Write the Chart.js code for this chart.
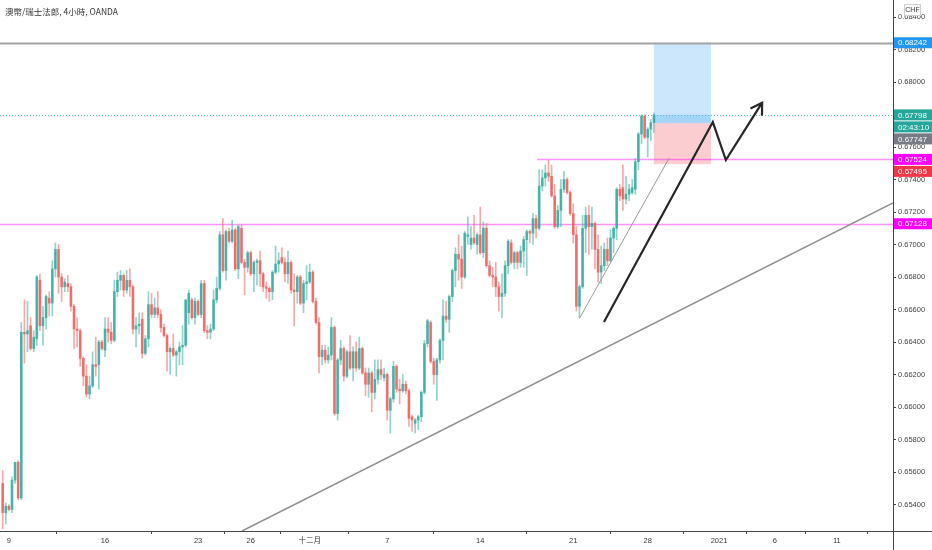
<!DOCTYPE html>
<html>
<head>
<meta charset="utf-8">
<script src="https://cdn.jsdelivr.net/npm/chart.js@4.4.1/dist/chart.umd.min.js"></script>
<style>
  html, body { margin: 0; padding: 0; background: #ffffff; }
  #wrap { width: 932px; height: 550px; position: relative; }
</style>
</head>
<body>
<div id="wrap"><canvas id="chart"></canvas></div>
<script>
// AUD/CHF 4h candles
const open = [
  0.6553,0.6535,0.6539,0.6537,0.6555,0.6566,0.6544,0.6646,0.6645,0.6650,
  0.6636,0.6642,0.6678,0.6650,0.6655,0.6667,0.6664,0.6685,0.6697,0.6680,
  0.6674,0.6676,0.6674,0.6662,0.6648,0.6647,0.6630,0.6619,0.6608,0.6613,
  0.6626,0.6626,0.6640,0.6635,0.6648,0.6646,0.6641,0.6671,0.6678,0.6681,
  0.6672,0.6678,0.6674,0.6648,0.6650,0.6654,0.6633,0.6642,0.6663,0.6657,
  0.6661,0.6657,0.6649,0.6644,0.6634,0.6636,0.6632,0.6634,0.6637,0.6638,
  0.6658,0.6666,0.6655,0.6665,0.6657,0.6676,0.6647,0.6646,0.6648,0.6666,
  0.6673,0.6706,0.6684,0.6708,0.6702,0.6709,0.6685,0.6710,0.6689,0.6686,
  0.6695,0.6682,0.6689,0.6690,0.6682,0.6674,0.6673,0.6671,0.6683,0.6688,
  0.6692,0.6689,0.6682,0.6689,0.6672,0.6671,0.6680,0.6664,0.6676,0.6677,
  0.6683,0.6665,0.6652,0.6631,0.6635,0.6629,0.6632,0.6649,0.6596,0.6629,
  0.6636,0.6619,0.6634,0.6624,0.6634,0.6624,0.6636,0.6621,0.6614,0.6621,
  0.6609,0.6617,0.6623,0.6618,0.6620,0.6598,0.6605,0.6625,0.6611,0.6610,
  0.6614,0.6610,0.6594,0.6590,0.6592,0.6594,0.6609,0.6639,0.6652,0.6628,
  0.6620,0.6629,0.6641,0.6656,0.6654,0.6668,0.6684,0.6694,0.6691,0.6680,
  0.6705,0.6700,0.6704,0.6700,0.6706,0.6695,0.6710,0.6687,0.6681,0.6680,
  0.6674,0.6668,0.6670,0.6687,0.6701,0.6689,0.6695,0.6689,0.6696,0.6703,
  0.6708,0.6707,0.6716,0.6710,0.6736,0.6741,0.6744,0.6742,0.6730,0.6711,
  0.6721,0.6734,0.6740,0.6732,0.6719,0.6706,0.6662,0.6674,0.6710,0.6718,
  0.6711,0.6713,0.6697,0.6683,0.6687,0.6697,0.6690,0.6704,0.6710,0.6734,
  0.6735,0.6728,0.6731,0.6732,0.6734,0.6751,0.6768,0.6779,0.6766,0.6771,0.6775
];
const high = [
  0.6561,0.6541,0.6540,0.6557,0.6566,0.6567,0.6652,0.6666,0.6665,0.6655,
  0.6647,0.6681,0.6682,0.6662,0.6669,0.6671,0.6690,0.6701,0.6700,0.6682,
  0.6679,0.6681,0.6676,0.6663,0.6655,0.6648,0.6631,0.6626,0.6619,0.6634,
  0.6643,0.6641,0.6641,0.6655,0.6655,0.6652,0.6678,0.6683,0.6684,0.6682,
  0.6684,0.6685,0.6675,0.6655,0.6658,0.6658,0.6644,0.6671,0.6670,0.6667,
  0.6671,0.6660,0.6651,0.6645,0.6637,0.6645,0.6635,0.6640,0.6650,0.6666,
  0.6672,0.6667,0.6667,0.6666,0.6678,0.6678,0.6650,0.6651,0.6672,0.6680,
  0.6708,0.6716,0.6709,0.6710,0.6715,0.6710,0.6712,0.6712,0.6691,0.6696,
  0.6696,0.6690,0.6691,0.6696,0.6683,0.6677,0.6674,0.6684,0.6699,0.6695,
  0.6698,0.6692,0.6696,0.6690,0.6682,0.6681,0.6681,0.6678,0.6687,0.6688,
  0.6684,0.6667,0.6655,0.6638,0.6638,0.6637,0.6655,0.6650,0.6630,0.6641,
  0.6637,0.6635,0.6644,0.6637,0.6640,0.6643,0.6637,0.6624,0.6624,0.6622,
  0.6629,0.6629,0.6629,0.6624,0.6621,0.6606,0.6628,0.6626,0.6617,0.6620,
  0.6616,0.6611,0.6595,0.6593,0.6595,0.6610,0.6641,0.6654,0.6653,0.6630,
  0.6630,0.6642,0.6666,0.6665,0.6669,0.6685,0.6698,0.6706,0.6699,0.6708,
  0.6717,0.6711,0.6718,0.6707,0.6723,0.6714,0.6713,0.6690,0.6686,0.6689,
  0.6677,0.6682,0.6690,0.6703,0.6703,0.6696,0.6696,0.6699,0.6705,0.6709,
  0.6709,0.6719,0.6718,0.6746,0.6746,0.6749,0.6752,0.6749,0.6737,0.6724,
  0.6740,0.6745,0.6741,0.6733,0.6725,0.6711,0.6675,0.6718,0.6723,0.6724,
  0.6723,0.6714,0.6706,0.6699,0.6701,0.6704,0.6709,0.6711,0.6735,0.6737,
  0.6749,0.6742,0.6737,0.6740,0.6753,0.6769,0.6780,0.6780,0.6772,0.6777,0.6781
];
const low = [
  0.6525,0.6528,0.6536,0.6535,0.6553,0.6543,0.6543,0.6627,0.6634,0.6635,
  0.6634,0.6638,0.6647,0.6638,0.6648,0.6656,0.6656,0.6680,0.6670,0.6665,
  0.6671,0.6671,0.6659,0.6636,0.6637,0.6625,0.6613,0.6606,0.6605,0.6612,
  0.6619,0.6611,0.6635,0.6631,0.6640,0.6639,0.6640,0.6668,0.6672,0.6668,
  0.6670,0.6668,0.6645,0.6637,0.6645,0.6630,0.6632,0.6637,0.6655,0.6655,
  0.6655,0.6646,0.6643,0.6622,0.6620,0.6631,0.6619,0.6626,0.6626,0.6637,
  0.6651,0.6654,0.6651,0.6656,0.6655,0.6646,0.6642,0.6642,0.6647,0.6664,
  0.6672,0.6683,0.6678,0.6701,0.6701,0.6684,0.6679,0.6688,0.6669,0.6683,
  0.6681,0.6671,0.6675,0.6674,0.6671,0.6667,0.6665,0.6666,0.6682,0.6683,
  0.6688,0.6677,0.6676,0.6670,0.6650,0.6664,0.6663,0.6658,0.6666,0.6676,
  0.6664,0.6651,0.6621,0.6626,0.6627,0.6627,0.6629,0.6595,0.6592,0.6626,
  0.6616,0.6618,0.6623,0.6616,0.6622,0.6623,0.6620,0.6607,0.6606,0.6597,
  0.6605,0.6614,0.6617,0.6616,0.6592,0.6584,0.6603,0.6609,0.6602,0.6609,
  0.6608,0.6588,0.6585,0.6584,0.6586,0.6591,0.6608,0.6637,0.6627,0.6614,
  0.6604,0.6627,0.6629,0.6652,0.6646,0.6665,0.6674,0.6678,0.6673,0.6679,
  0.6700,0.6697,0.6700,0.6694,0.6694,0.6692,0.6686,0.6680,0.6674,0.6668,
  0.6659,0.6655,0.6668,0.6682,0.6688,0.6685,0.6685,0.6686,0.6686,0.6681,
  0.6701,0.6700,0.6704,0.6709,0.6733,0.6736,0.6739,0.6729,0.6710,0.6710,
  0.6711,0.6732,0.6731,0.6718,0.6701,0.6659,0.6655,0.6673,0.6695,0.6694,
  0.6697,0.6685,0.6677,0.6676,0.6684,0.6687,0.6689,0.6695,0.6703,0.6727,
  0.6721,0.6725,0.6727,0.6731,0.6731,0.6746,0.6762,0.6765,0.6754,0.6764,0.6769
];
const close = [
  0.6535,0.6539,0.6537,0.6555,0.6566,0.6544,0.6646,0.6645,0.6647,0.6636,
  0.6643,0.6680,0.6650,0.6655,0.6668,0.6664,0.6685,0.6697,0.6680,0.6674,
  0.6677,0.6674,0.6662,0.6648,0.6647,0.6630,0.6619,0.6608,0.6613,0.6626,
  0.6625,0.6640,0.6636,0.6648,0.6646,0.6641,0.6671,0.6678,0.6681,0.6672,
  0.6678,0.6674,0.6648,0.6650,0.6651,0.6633,0.6642,0.6663,0.6657,0.6661,
  0.6657,0.6649,0.6644,0.6634,0.6636,0.6632,0.6634,0.6637,0.6638,0.6666,
  0.6670,0.6655,0.6665,0.6657,0.6676,0.6647,0.6646,0.6648,0.6666,0.6673,
  0.6706,0.6684,0.6708,0.6702,0.6709,0.6685,0.6711,0.6689,0.6686,0.6695,
  0.6682,0.6689,0.6690,0.6682,0.6674,0.6673,0.6671,0.6683,0.6688,0.6690,
  0.6689,0.6682,0.6689,0.6672,0.6671,0.6680,0.6664,0.6676,0.6677,0.6683,
  0.6665,0.6652,0.6631,0.6635,0.6629,0.6632,0.6649,0.6596,0.6629,0.6636,
  0.6619,0.6634,0.6624,0.6634,0.6624,0.6636,0.6621,0.6614,0.6621,0.6609,
  0.6617,0.6623,0.6620,0.6620,0.6598,0.6605,0.6625,0.6611,0.6610,0.6614,
  0.6610,0.6593,0.6592,0.6592,0.6594,0.6609,0.6639,0.6653,0.6628,0.6620,
  0.6629,0.6641,0.6656,0.6654,0.6668,0.6684,0.6694,0.6691,0.6680,0.6707,
  0.6706,0.6704,0.6701,0.6706,0.6695,0.6710,0.6687,0.6681,0.6680,0.6674,
  0.6668,0.6670,0.6687,0.6702,0.6689,0.6695,0.6689,0.6696,0.6703,0.6708,
  0.6707,0.6716,0.6710,0.6736,0.6741,0.6744,0.6742,0.6730,0.6711,0.6721,
  0.6734,0.6740,0.6732,0.6719,0.6706,0.6662,0.6674,0.6710,0.6718,0.6711,
  0.6713,0.6697,0.6683,0.6687,0.6697,0.6690,0.6704,0.6710,0.6734,0.6730,
  0.6728,0.6731,0.6734,0.6735,0.6751,0.6768,0.6779,0.6766,0.6771,0.6775,0.67798
];

// time axis labels (bar index where each label sits)
const tickIdx = [2, 33, 63, 80, 99, 124, 154, 184, 208, 231, 249, 269];
const tickText = ['9', '16', '23', '26', '十二月', '7', '14', '21', '28', '2021', '6', '11'];
const priceTicks = [0.654, 0.656, 0.658, 0.660, 0.662, 0.664, 0.666, 0.668, 0.670,
                    0.672, 0.674, 0.676, 0.678, 0.680, 0.682, 0.684];

// levels drawn on the chart
const targetLevel = 0.68242;
const lastPrice = 0.67798;
const entryLevel = 0.67747;
const resistanceLevel = 0.67524;
const stopLevel = 0.67495;
const supportLevel = 0.67128;
const countdown = '02:43:10';
const positionBars = [210, 228.4];
const resistanceFrom = 172.3;
const trendLong = [[77.2, 0.65237], [287.1, 0.67256]];
const trendShort = [[186, 0.66546], [214.9, 0.67532]];
const arrowPath = [[193.9, 0.66523], [229.0, 0.67754], [233.2, 0.67520], [244.9, 0.67873]];

const FONT = "'Liberation Sans', 'Noto Sans CJK TC', sans-serif";
const UP = '38,166,154';
const DOWN = '239,83,80';

const idx = close.map((_, i) => i);
const isUp = idx.map((i) => close[i] >= open[i]);

const drawings = {
    id: 'drawings',
    beforeDatasetsDraw(chart) {
        const { ctx, chartArea: a, scales: { x, y } } = chart;
        ctx.save();
        ctx.beginPath();
        ctx.rect(a.left, a.top, a.right - a.left, a.bottom - a.top);
        ctx.clip();

        // long position boxes
        const bx0 = x.getPixelForValue(positionBars[0]);
        const bx1 = x.getPixelForValue(positionBars[1]);
        const yT = y.getPixelForValue(targetLevel);
        const yE = y.getPixelForValue(entryLevel);
        const yL = y.getPixelForValue(lastPrice);
        const yS = y.getPixelForValue(stopLevel);
        ctx.fillStyle = 'rgba(33,150,243,0.23)';
        ctx.fillRect(bx0, yT, bx1 - bx0, yE - yT);
        ctx.fillStyle = 'rgba(33,150,243,0.22)';
        ctx.fillRect(bx0, yL, bx1 - bx0, yE - yL);
        ctx.fillStyle = 'rgba(242,54,69,0.25)';
        ctx.fillRect(bx0, yE, bx1 - bx0, yS - yE);

        // horizontal levels
        const hline = (v, from, color, width, dash) => {
            const py = Math.round(y.getPixelForValue(v)) + 0.5;
            ctx.beginPath();
            ctx.setLineDash(dash || []);
            ctx.strokeStyle = color;
            ctx.lineWidth = width;
            ctx.moveTo(from, py);
            ctx.lineTo(a.right, py);
            ctx.stroke();
        };
        hline(targetLevel, a.left, '#a3a3a3', 2);
        hline(supportLevel, a.left, 'rgba(255,0,255,0.42)', 1.5);
        hline(resistanceLevel, x.getPixelForValue(resistanceFrom), 'rgba(255,0,255,0.42)', 1.5);
        hline(lastPrice, a.left, '#4cc2bd', 1, [1, 2]);
        ctx.restore();
    },
    afterDatasetsDraw(chart) {
        const { ctx, chartArea: a, scales: { x, y } } = chart;
        const pt = (p) => [x.getPixelForValue(p[0]), y.getPixelForValue(p[1])];
        ctx.save();
        ctx.beginPath();
        ctx.rect(a.left, a.top, a.right - a.left, a.bottom - a.top);
        ctx.clip();

        const seg = (pts, color, width) => {
            ctx.beginPath();
            ctx.strokeStyle = color;
            ctx.lineWidth = width;
            pts.forEach((p, i) => {
                const [px, py] = pt(p);
                if (i === 0) ctx.moveTo(px, py); else ctx.lineTo(px, py);
            });
            ctx.stroke();
        };
        seg(trendLong, '#8f8f8f', 1.5);
        seg(trendShort, '#9a9a9a', 1);

        // hand-drawn arrow
        ctx.lineJoin = 'miter';
        seg(arrowPath, '#262626', 2.2);
        const [tx, ty] = pt(arrowPath[arrowPath.length - 1]);
        const [px, py] = pt(arrowPath[arrowPath.length - 2]);
        const ang = Math.atan2(ty - py, tx - px);
        ctx.beginPath();
        ctx.moveTo(tx - 13 * Math.cos(ang - 0.55), ty - 13 * Math.sin(ang - 0.55));
        ctx.lineTo(tx, ty);
        ctx.lineTo(tx - 13 * Math.cos(ang + 0.55), ty - 13 * Math.sin(ang + 0.55));
        ctx.stroke();
        ctx.restore();
    },
    afterDraw(chart) {
        const { ctx, chartArea: a, scales: { y } } = chart;
        const W = chart.width, H = chart.height;
        ctx.save();

        // axis lines past the plot
        ctx.strokeStyle = '#444';
        ctx.lineWidth = 1;
        ctx.beginPath();
        ctx.moveTo(a.right, a.bottom + 0.5);
        ctx.lineTo(W, a.bottom + 0.5);
        ctx.moveTo(a.right + 0.5, a.bottom);
        ctx.lineTo(a.right + 0.5, H);
        ctx.stroke();

        // price labels on the axis, pushed down when they overlap
        const labels = [
            { v: targetLevel, bg: '#2196f3', text: targetLevel.toFixed(5) },
            { v: lastPrice, bg: '#26a69a', text: lastPrice.toFixed(5), sub: countdown },
            { v: entryLevel, bg: '#787b86', text: entryLevel.toFixed(5) },
            { v: resistanceLevel, bg: '#ff00ff', text: resistanceLevel.toFixed(5) },
            { v: stopLevel, bg: '#f23645', text: stopLevel.toFixed(5) },
            { v: supportLevel, bg: '#ff00ff', text: supportLevel.toFixed(5) },
        ];
        const boxH = 11, gap = 12;
        let prev = -Infinity;
        ctx.font = '8px ' + FONT;
        ctx.textBaseline = 'middle';
        ctx.textAlign = 'left';
        labels.forEach((l) => {
            const cy = Math.max(y.getPixelForValue(l.v), prev + gap);
            const rows = [{ cy, text: l.text }];
            if (l.sub) rows.push({ cy: cy + gap, text: l.sub });
            rows.forEach((r) => {
                ctx.fillStyle = l.bg;
                ctx.fillRect(a.right + 1, r.cy - boxH / 2, W - a.right - 1, boxH);
                ctx.fillStyle = '#ffffff';
                ctx.fillText(r.text, a.right + 5, r.cy + 0.5);
            });
            prev = rows[rows.length - 1].cy;
        });

        // title
        ctx.fillStyle = '#333';
        ctx.font = "8.5px 'Noto Sans CJK TC', sans-serif";
        ctx.fillText('澳幣/瑞士法郎, 4小時, OANDA', 5, 12);

        // currency badge
        ctx.fillStyle = '#ffffff';
        ctx.fillRect(904, 4, 17, 12);
        ctx.strokeStyle = '#cfcfcf';
        ctx.strokeRect(904.5, 4.5, 16, 11);
        ctx.fillStyle = '#333';
        ctx.font = '7px ' + FONT;
        ctx.textAlign = 'center';
        ctx.fillText('CHF', 912.5, 10.5);
        ctx.restore();
    },
};

const noPad = (s) => {
    s.paddingTop = 0;
    s.paddingBottom = 0;
    s.paddingLeft = 0;
    s.paddingRight = 0;
};

new Chart(document.getElementById('chart'), {
    type: 'bar',
    data: {
        datasets: [
            {
                label: 'body',
                data: idx.map((i) => ({ x: i, y: [open[i], close[i]] })),
                backgroundColor: isUp.map((u) => `rgba(${u ? UP : DOWN},0.75)`),
                barThickness: 2,
                minBarLength: 1,
                grouped: false,
            },
            {
                label: 'wick',
                data: idx.map((i) => ({ x: i, y: [low[i], high[i]] })),
                backgroundColor: isUp.map((u) => `rgba(${u ? UP : DOWN},0.5)`),
                barThickness: 1,
                grouped: false,
            },
        ],
    },
    options: {
        responsive: true,
        maintainAspectRatio: false,
        animation: false,
        layout: { padding: 0 },
        plugins: {
            legend: { display: false },
            tooltip: { enabled: false },
        },
        scales: {
            x: {
                type: 'linear',
                min: -0.87,
                max: 287.1,
                offset: false,
                afterBuildTicks: (s) => { s.ticks = tickIdx.map((v) => ({ value: v })); },
                afterFit: (s) => { s.height = 19; noPad(s); },
                ticks: {
                    autoSkip: false,
                    maxRotation: 0,
                    color: '#333',
                    padding: 2,
                    font: { size: 7.5, family: FONT },
                    callback: (v, i) => tickText[i],
                },
                grid: { drawOnChartArea: false, tickLength: 3, color: '#444' },
                border: { display: true, color: '#444' },
            },
            y: {
                position: 'right',
                min: 0.65237,
                max: 0.68505,
                afterBuildTicks: (s) => { s.ticks = priceTicks.map((v) => ({ value: v })); },
                afterFit: (s) => { s.width = 39; noPad(s); },
                ticks: {
                    color: '#444',
                    padding: 2,
                    font: { size: 7.5, family: FONT },
                    callback: (v) => v.toFixed(5),
                },
                grid: { drawOnChartArea: false, tickLength: 3, color: '#444' },
                border: { display: true, color: '#444' },
            },
        },
    },
    plugins: [drawings],
});
</script>
</body>
</html>
